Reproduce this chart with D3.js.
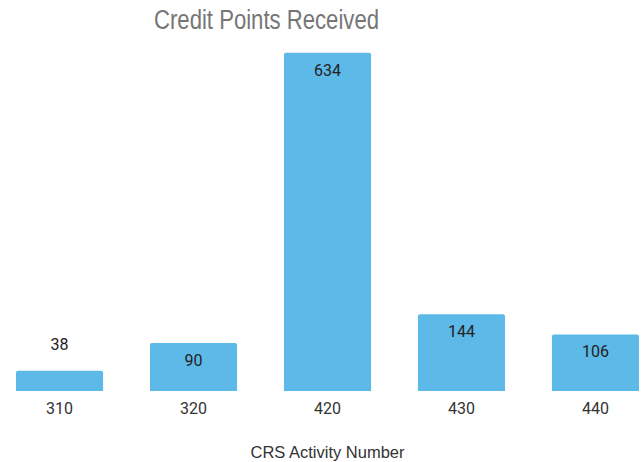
<!DOCTYPE html>
<html>
<head>
<meta charset="utf-8">
<script src="https://cdn.jsdelivr.net/npm/d3@7"></script>
<style>
  html, body { margin: 0; padding: 0; background: #fff; }
  svg { display: block; }
</style>
</head>
<body>
<svg id="chart" width="641" height="462"></svg>
<script>
// Credit points per CRS activity
const activities = ["310", "320", "420", "430", "440"];
const points = [38, 90, 634, 144, 106];
const titleText = "Credit Points Received";
const axisTitle = "CRS Activity Number";

const svg = d3.select("#chart");

const x = d3.scaleBand()
  .domain(activities)
  .range([16, 639])
  .paddingInner(0.35)
  .paddingOuter(0);

const y = d3.scaleLinear()
  .domain([0, 700])
  .range([391, 17.5]);

// Title (narrow sans)
svg.append("text")
  .attr("x", 266.5)
  .attr("y", 29)
  .attr("text-anchor", "middle")
  .attr("font-family", "'Liberation Sans Narrow', 'Arial Narrow', 'Liberation Sans', sans-serif")
  .attr("font-size", 27)
  .attr("fill", "#767676")
  .attr("textLength", 225)
  .attr("lengthAdjust", "spacingAndGlyphs")
  .text(titleText);

// Bars with slightly rounded top corners
const barColor = "#5db9e8";
const r = 2;
svg.append("g").selectAll("path")
  .data(points)
  .join("path")
  .attr("fill", barColor)
  .attr("d", (d, i) => {
    const x0 = x(activities[i]), w = x.bandwidth();
    const y0 = y(d), y1 = y(0);
    return `M${x0},${y1}V${y0 + r}Q${x0},${y0} ${x0 + r},${y0}H${x0 + w - r}Q${x0 + w},${y0} ${x0 + w},${y0 + r}V${y1}Z`;
  });

// Value labels: inside the top of tall bars, above short ones
svg.append("g").selectAll("text")
  .data(points)
  .join("text")
  .attr("x", (d, i) => x(activities[i]) + x.bandwidth() / 2)
  .attr("y", d => (y(0) - y(d) > 28 ? y(d) + 23 : y(d) - 21))
  .attr("text-anchor", "middle")
  .attr("font-family", "Roboto, sans-serif")
  .attr("font-size", 16)
  .attr("fill", "#222")
  .text(d => d);

// Category axis (labels only)
const xAxis = svg.append("g")
  .attr("transform", `translate(0,${y(0)})`)
  .call(d3.axisBottom(x).tickSize(0).tickPadding(12));
xAxis.select(".domain").remove();
xAxis.selectAll("text")
  .attr("font-family", "Roboto, sans-serif")
  .attr("font-size", 16)
  .attr("fill", "#333");

// Axis title
svg.append("text")
  .attr("x", 327.5)
  .attr("y", 458)
  .attr("text-anchor", "middle")
  .attr("font-family", "'Liberation Sans', Arial, sans-serif")
  .attr("font-size", 16.5)
  .attr("fill", "#333")
  .text(axisTitle);
</script>
</body>
</html>
